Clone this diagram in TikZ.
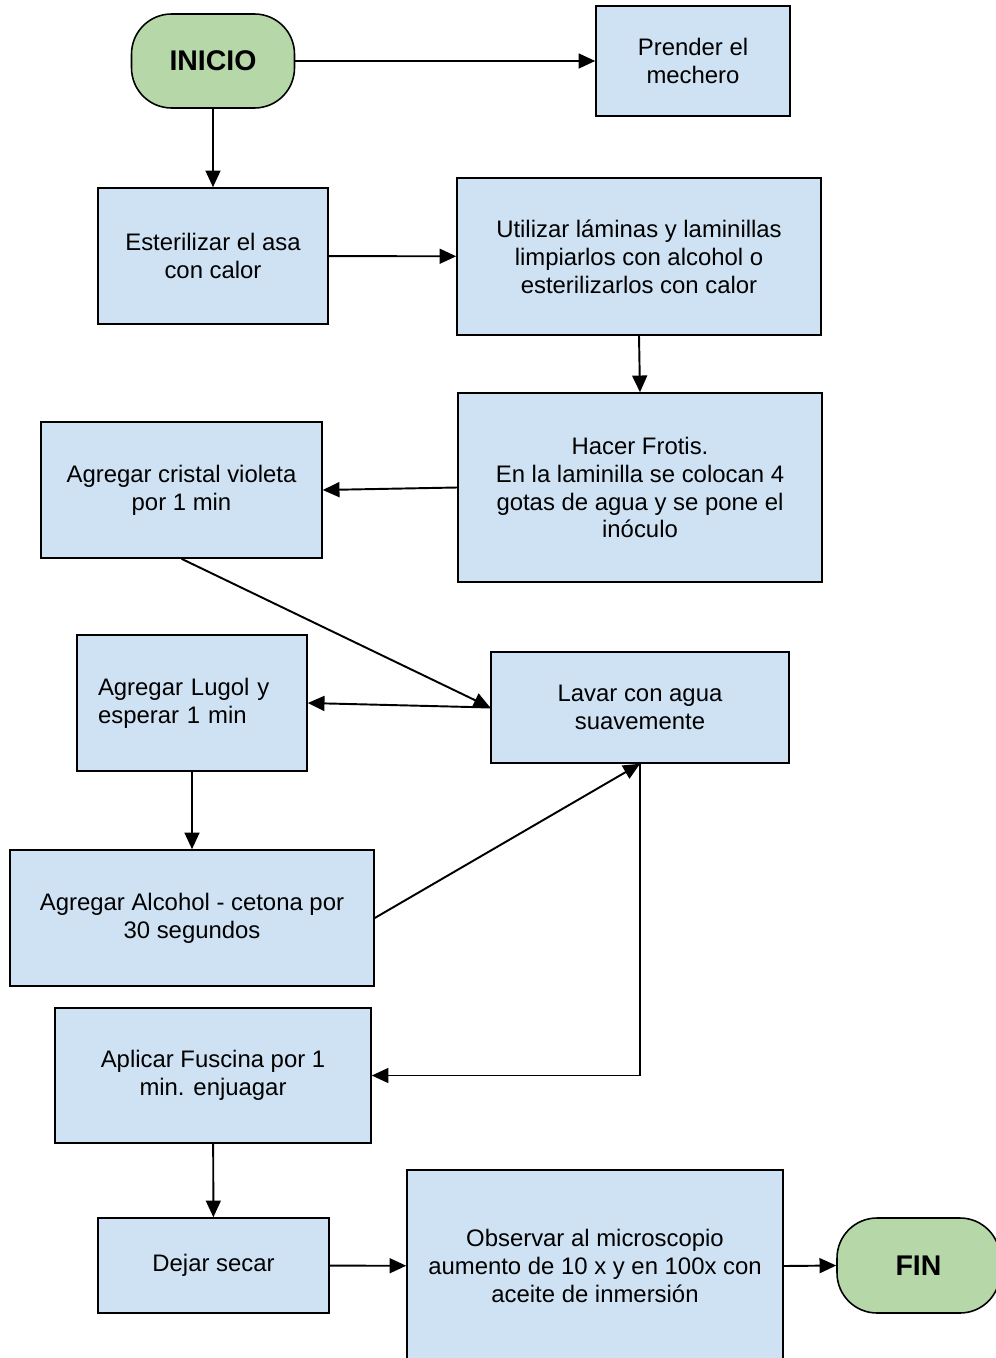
\documentclass[tikz,border=0pt]{standalone}
\usepackage{fontspec}
\setmainfont{Liberation Sans}
\usetikzlibrary{arrows.meta}
\definecolor{cajaazul}{RGB}{207,226,243}
\definecolor{cajaverde}{RGB}{182,215,168}

\begin{document}
\begin{tikzpicture}[x=0.02cm, y=-0.02cm,
caja/.style={rectangle, draw=black, fill=cajaazul, line width=0.9pt, align=center, inner sep=2pt, font=\fontsize{13.6}{15.9}\selectfont},
terminal/.style={rectangle, rounded corners=0.8cm, draw=black, fill=cajaverde, line width=0.9pt, minimum width=3.26cm, minimum height=1.88cm, font=\fontsize{16.2}{19}\selectfont\bfseries},
flecha/.style={line width=1.1pt, -{Triangle[length=9.5pt, width=8.5pt]}}
]
    \useasboundingbox (0,0) rectangle (995,1358);

    \node [terminal] (ini) at (213,61) {\raisebox{-2pt}{INICIO}};
    \node [caja, minimum width=3.88cm, minimum height=2.2cm] (mechero) at (693,61) {Prender el\\mechero};

    \node [caja, minimum width=4.6cm, minimum height=2.72cm] (asa) at (213,256) {Esterilizar el asa\\con calor};
    \node [caja, minimum width=7.28cm, minimum height=3.14cm] (laminas) at (639,256.5) {Utilizar láminas y laminillas\\limpiarlos con alcohol o\\esterilizarlos con calor};

    \node [caja, minimum width=7.28cm, minimum height=3.78cm] (frotis) at (640,487.5) {Hacer Frotis.\\En la laminilla se colocan 4\\gotas de agua y se pone el\\inóculo};
    \node [caja, minimum width=5.62cm, minimum height=2.72cm] (violeta) at (181.5,490) {Agregar cristal violeta\\por 1 min};

    \node [caja, minimum width=5.96cm, minimum height=2.22cm] (lavar) at (640,707.5) {Lavar con agua\\suavemente};
    \node [caja, align=left, text width=3.76cm, inner xsep=0.42cm, minimum height=2.72cm] (lugol) at (192,703) {Agregar Lugol y\\esperar 1 min};

    \node [caja, minimum width=7.28cm, minimum height=2.72cm] (alcohol) at (192,918) {Agregar Alcohol - cetona por\\30 segundos};
    \node [caja, minimum width=6.32cm, minimum height=2.7cm] (fuscina) at (213,1075.5) {Aplicar Fuscina por 1\\min. enjuagar};

    \node [caja, minimum width=4.62cm, minimum height=1.9cm] (secar) at (213.5,1265.5) {Dejar secar};
    \node [caja, minimum width=7.52cm, minimum height=3.84cm] (observar) at (595,1266) {Observar al microscopio\\aumento de 10 x y en 100x con\\aceite de inmersión};
    \node [terminal, minimum height=1.9cm] (fin) at (918.5,1265.5) {\raisebox{-2pt}{FIN}};

    \draw [flecha] (ini) -- (mechero);
    \draw [flecha] (ini) -- (asa);
    \draw [flecha] (asa) -- (laminas);
    \draw [flecha] (laminas.south) -- (frotis.north);
    \draw [flecha] (frotis.west) -- (violeta.east);
    \draw [flecha] (violeta.south) -- (lavar.west);
    \draw [flecha] (lavar.west) -- (lugol.east);
    \draw [flecha] (lugol.south) -- (alcohol.north);
    \draw [flecha] (alcohol.east) -- (lavar.south);
    \draw [flecha] (lavar.south) |- (fuscina.east);
    \draw [flecha] (fuscina) -- (secar);
    \draw [flecha] (secar) -- (observar);
    \draw [flecha] (observar.east) -- (fin.west);
\end{tikzpicture}
\end{document}
